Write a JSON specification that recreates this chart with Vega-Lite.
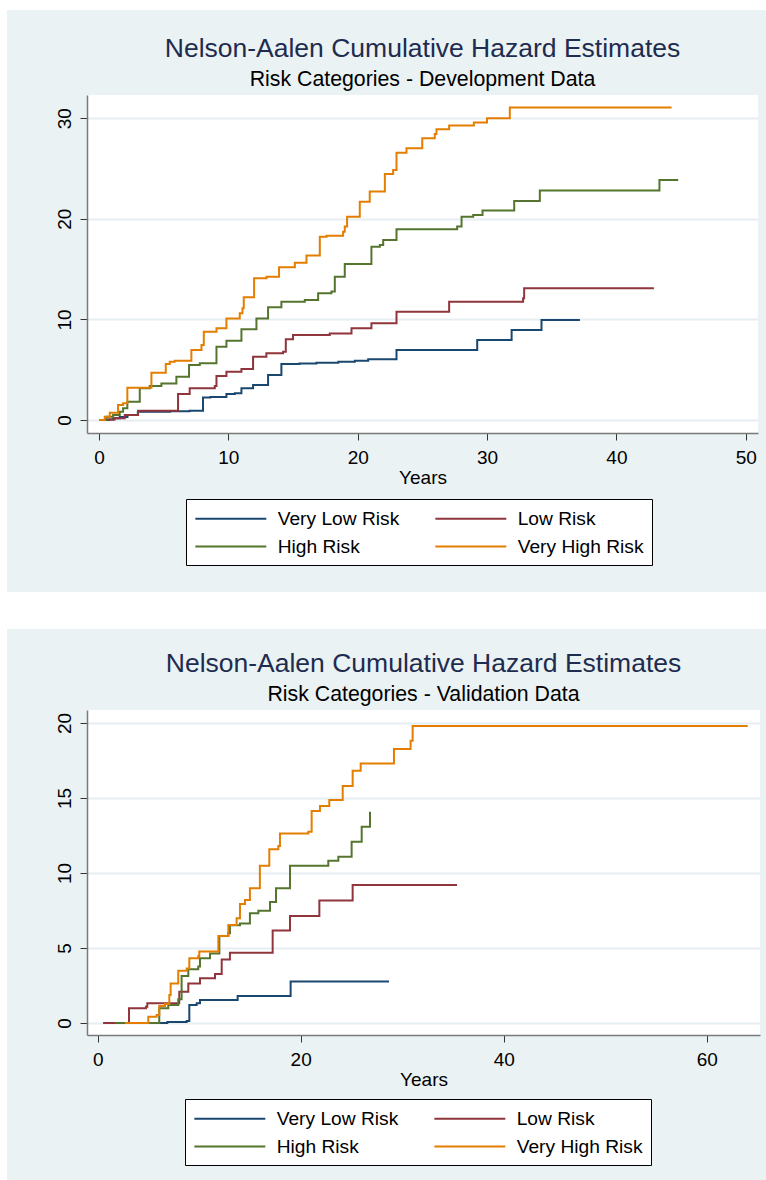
{
  "$schema": "https://vega.github.io/schema/vega-lite/v6.json",
  "background": "#eaf2f3",
  "padding": 0,
  "spacing": 0,
  "config": {
    "font": "Liberation Sans",
    "view": {"stroke": null},
    "title": {"font": "Liberation Sans", "fontSize": 26.5, "fontWeight": "normal", "color": "#1e2c50", "subtitleFont": "Liberation Sans", "subtitleFontSize": 21.3, "subtitleColor": "#000000", "subtitlePadding": 6, "offset": 5, "anchor": "middle", "frame": "group"},
    "axis": {"labelFont": "Liberation Sans", "labelFontSize": 19, "labelColor": "#000000", "titleFont": "Liberation Sans", "titleFontSize": 19, "titleFontWeight": "normal", "titleColor": "#000000", "domainColor": "#7a7a7a", "domainWidth": 1.5, "tickColor": "#333333", "tickWidth": 1, "tickSize": 7, "gridColor": "#e6eef1", "gridWidth": 2, "labelOverlap": false, "labelFlush": false}
  },
  "datasets": {
    "dev": [
      {"g":"Very Low Risk","t":0,"h":0},{"g":"Very Low Risk","t":0.5,"h":0.05},{"g":"Very Low Risk","t":1.1,"h":0.17},{"g":"Very Low Risk","t":1.6,"h":0.3},{"g":"Very Low Risk","t":2.2,"h":0.5},{"g":"Very Low Risk","t":3.0,"h":0.83},{"g":"Very Low Risk","t":5.5,"h":0.87},{"g":"Very Low Risk","t":7.0,"h":0.93},{"g":"Very Low Risk","t":8.04,"h":2.25},{"g":"Very Low Risk","t":8.6,"h":2.3},{"g":"Very Low Risk","t":9.85,"h":2.58},{"g":"Very Low Risk","t":10.5,"h":2.65},{"g":"Very Low Risk","t":11.01,"h":3.15},{"g":"Very Low Risk","t":11.91,"h":3.48},{"g":"Very Low Risk","t":13.07,"h":4.47},{"g":"Very Low Risk","t":14.1,"h":5.57},{"g":"Very Low Risk","t":15.5,"h":5.62},{"g":"Very Low Risk","t":16.81,"h":5.7},{"g":"Very Low Risk","t":18.5,"h":5.78},{"g":"Very Low Risk","t":19.78,"h":5.9},{"g":"Very Low Risk","t":20.81,"h":6.03},{"g":"Very Low Risk","t":23.0,"h":6.96},{"g":"Very Low Risk","t":29.24,"h":7.95},{"g":"Very Low Risk","t":31.9,"h":8.95},{"g":"Very Low Risk","t":34.21,"h":9.94},{"g":"Very Low Risk","t":37.18,"h":9.94},
      {"g":"Low Risk","t":0,"h":0},{"g":"Low Risk","t":0.8,"h":0.05},{"g":"Low Risk","t":1.21,"h":0.17},{"g":"Low Risk","t":1.99,"h":0.5},{"g":"Low Risk","t":3.02,"h":0.93},{"g":"Low Risk","t":6.11,"h":2.58},{"g":"Low Risk","t":7.01,"h":3.15},{"g":"Low Risk","t":8.95,"h":3.38},{"g":"Low Risk","t":9.08,"h":4.37},{"g":"Low Risk","t":9.85,"h":4.8},{"g":"Low Risk","t":11.01,"h":5.07},{"g":"Low Risk","t":11.91,"h":6.3},{"g":"Low Risk","t":12.94,"h":6.63},{"g":"Low Risk","t":14.23,"h":6.79},{"g":"Low Risk","t":14.44,"h":8.02},{"g":"Low Risk","t":15.0,"h":8.45},{"g":"Low Risk","t":17.84,"h":8.61},{"g":"Low Risk","t":19.52,"h":9.11},{"g":"Low Risk","t":21.06,"h":9.61},{"g":"Low Risk","t":23.0,"h":10.77},{"g":"Low Risk","t":27.07,"h":11.76},{"g":"Low Risk","t":32.79,"h":12.09},{"g":"Low Risk","t":32.87,"h":13.09},{"g":"Low Risk","t":42.9,"h":13.09},
      {"g":"High Risk","t":0,"h":0},{"g":"High Risk","t":0.57,"h":0.33},{"g":"High Risk","t":1.09,"h":0.5},{"g":"High Risk","t":1.6,"h":0.83},{"g":"High Risk","t":1.86,"h":1.16},{"g":"High Risk","t":2.19,"h":1.82},{"g":"High Risk","t":3.15,"h":3.15},{"g":"High Risk","t":3.92,"h":3.38},{"g":"High Risk","t":4.82,"h":3.64},{"g":"High Risk","t":5.98,"h":4.31},{"g":"High Risk","t":6.96,"h":5.47},{"g":"High Risk","t":7.79,"h":5.63},{"g":"High Risk","t":9.08,"h":7.29},{"g":"High Risk","t":9.85,"h":7.89},{"g":"High Risk","t":11.01,"h":9.01},{"g":"High Risk","t":12.17,"h":10.1},{"g":"High Risk","t":13.07,"h":11.2},{"g":"High Risk","t":14.1,"h":11.76},{"g":"High Risk","t":15.91,"h":11.93},{"g":"High Risk","t":16.94,"h":12.59},{"g":"High Risk","t":17.97,"h":12.76},{"g":"High Risk","t":18.23,"h":14.25},{"g":"High Risk","t":19.0,"h":15.5},{"g":"High Risk","t":21.06,"h":17.23},{"g":"High Risk","t":21.71,"h":17.4},{"g":"High Risk","t":21.97,"h":17.9},{"g":"High Risk","t":23.0,"h":18.95},{"g":"High Risk","t":27.69,"h":19.22},{"g":"High Risk","t":28.03,"h":20.21},{"g":"High Risk","t":28.93,"h":20.38},{"g":"High Risk","t":29.65,"h":20.81},{"g":"High Risk","t":32.1,"h":21.77},{"g":"High Risk","t":34.08,"h":22.8},{"g":"High Risk","t":43.33,"h":23.86},{"g":"High Risk","t":44.78,"h":23.86},
      {"g":"Very High Risk","t":0,"h":0},{"g":"Very High Risk","t":0.44,"h":0.33},{"g":"Very High Risk","t":0.83,"h":0.73},{"g":"Very High Risk","t":1.47,"h":1.49},{"g":"Very High Risk","t":1.86,"h":1.66},{"g":"Very High Risk","t":2.19,"h":3.21},{"g":"Very High Risk","t":4.05,"h":4.71},{"g":"Very High Risk","t":5.16,"h":5.57},{"g":"Very High Risk","t":5.47,"h":5.8},{"g":"Very High Risk","t":5.85,"h":5.9},{"g":"Very High Risk","t":7.14,"h":6.96},{"g":"Very High Risk","t":7.92,"h":7.46},{"g":"Very High Risk","t":8.1,"h":8.78},{"g":"Very High Risk","t":9.08,"h":9.11},{"g":"Very High Risk","t":9.85,"h":10.1},{"g":"Very High Risk","t":10.88,"h":10.6},{"g":"Very High Risk","t":11.09,"h":11.1},{"g":"Very High Risk","t":11.19,"h":12.19},{"g":"Very High Risk","t":11.99,"h":14.08},{"g":"Very High Risk","t":12.95,"h":14.25},{"g":"Very High Risk","t":13.92,"h":15.18},{"g":"Very High Risk","t":15.14,"h":15.64},{"g":"Very High Risk","t":16.04,"h":16.34},{"g":"Very High Risk","t":17.07,"h":18.22},{"g":"Very High Risk","t":17.59,"h":18.32},{"g":"Very High Risk","t":18.87,"h":18.72},{"g":"Very High Risk","t":19.0,"h":19.22},{"g":"Very High Risk","t":19.18,"h":20.21},{"g":"Very High Risk","t":20.16,"h":21.7},{"g":"Very High Risk","t":20.93,"h":22.7},{"g":"Very High Risk","t":22.1,"h":24.45},{"g":"Very High Risk","t":22.74,"h":24.85},{"g":"Very High Risk","t":23.0,"h":26.57},{"g":"Very High Risk","t":23.77,"h":27.0},{"g":"Very High Risk","t":24.99,"h":28.0},{"g":"Very High Risk","t":25.96,"h":28.43},{"g":"Very High Risk","t":26.09,"h":28.9},{"g":"Very High Risk","t":27.07,"h":29.26},{"g":"Very High Risk","t":28.98,"h":29.56},{"g":"Very High Risk","t":30.0,"h":29.99},{"g":"Very High Risk","t":31.76,"h":31.05},{"g":"Very High Risk","t":44.27,"h":31.05}
    ],
    "val": [
      {"g":"Very Low Risk","t":0.56,"h":0},{"g":"Very Low Risk","t":6.86,"h":0.07},{"g":"Very Low Risk","t":8.77,"h":0.13},{"g":"Very Low Risk","t":9.03,"h":1.2},{"g":"Very Low Risk","t":9.75,"h":1.31},{"g":"Very Low Risk","t":10.08,"h":1.53},{"g":"Very Low Risk","t":13.79,"h":1.8},{"g":"Very Low Risk","t":19.01,"h":2.76},{"g":"Very Low Risk","t":28.7,"h":2.76},
      {"g":"Low Risk","t":0.56,"h":0},{"g":"Low Risk","t":3.09,"h":0.98},{"g":"Low Risk","t":4.76,"h":1.09},{"g":"Low Risk","t":4.89,"h":1.31},{"g":"Low Risk","t":8.04,"h":2.09},{"g":"Low Risk","t":8.93,"h":2.64},{"g":"Low Risk","t":10.08,"h":2.98},{"g":"Low Risk","t":11.56,"h":3.27},{"g":"Low Risk","t":12.22,"h":4.24},{"g":"Low Risk","t":13.03,"h":4.69},{"g":"Low Risk","t":17.24,"h":6.16},{"g":"Low Risk","t":18.95,"h":7.13},{"g":"Low Risk","t":21.84,"h":8.16},{"g":"Low Risk","t":25.12,"h":9.2},{"g":"Low Risk","t":35.4,"h":9.2},
      {"g":"High Risk","t":1.71,"h":0},{"g":"High Risk","t":6.07,"h":0.98},{"g":"High Risk","t":6.96,"h":1.2},{"g":"High Risk","t":7.94,"h":1.58},{"g":"High Risk","t":8.27,"h":3.13},{"g":"High Risk","t":8.93,"h":3.58},{"g":"High Risk","t":9.91,"h":3.76},{"g":"High Risk","t":10.08,"h":4.31},{"g":"High Risk","t":11.07,"h":4.64},{"g":"High Risk","t":11.99,"h":5.8},{"g":"High Risk","t":12.87,"h":5.98},{"g":"High Risk","t":13.03,"h":6.51},{"g":"High Risk","t":14.02,"h":6.64},{"g":"High Risk","t":15.0,"h":7.31},{"g":"High Risk","t":15.83,"h":7.49},{"g":"High Risk","t":16.98,"h":8.07},{"g":"High Risk","t":17.57,"h":8.98},{"g":"High Risk","t":18.95,"h":10.49},{"g":"High Risk","t":22.72,"h":10.82},{"g":"High Risk","t":23.71,"h":11.09},{"g":"High Risk","t":25.02,"h":12.09},{"g":"High Risk","t":26.01,"h":13.09},{"g":"High Risk","t":26.83,"h":14.09},
      {"g":"Very High Risk","t":2.69,"h":0},{"g":"Very High Risk","t":4.99,"h":0.42},{"g":"Very High Risk","t":5.81,"h":0.53},{"g":"Very High Risk","t":6.07,"h":1.13},{"g":"Very High Risk","t":6.63,"h":1.27},{"g":"Very High Risk","t":7.06,"h":1.87},{"g":"Very High Risk","t":7.19,"h":2.64},{"g":"Very High Risk","t":7.94,"h":3.49},{"g":"Very High Risk","t":8.77,"h":3.64},{"g":"Very High Risk","t":9.03,"h":4.31},{"g":"Very High Risk","t":9.91,"h":4.47},{"g":"Very High Risk","t":10.01,"h":4.76},{"g":"Very High Risk","t":11.89,"h":5.8},{"g":"Very High Risk","t":12.87,"h":6.53},{"g":"Very High Risk","t":13.69,"h":6.98},{"g":"Very High Risk","t":14.02,"h":7.93},{"g":"Very High Risk","t":14.51,"h":8.2},{"g":"Very High Risk","t":15.0,"h":8.98},{"g":"Very High Risk","t":15.98,"h":10.49},{"g":"Very High Risk","t":16.91,"h":11.58},{"g":"Very High Risk","t":17.8,"h":11.8},{"g":"Very High Risk","t":17.96,"h":12.64},{"g":"Very High Risk","t":20.75,"h":12.76},{"g":"Very High Risk","t":21.08,"h":14.13},{"g":"Very High Risk","t":21.9,"h":14.47},{"g":"Very High Risk","t":22.82,"h":14.87},{"g":"Very High Risk","t":24.14,"h":15.8},{"g":"Very High Risk","t":25.12,"h":16.82},{"g":"Very High Risk","t":25.91,"h":17.31},{"g":"Very High Risk","t":29.19,"h":18.27},{"g":"Very High Risk","t":30.83,"h":18.82},{"g":"Very High Risk","t":31.03,"h":19.8},{"g":"Very High Risk","t":64.04,"h":19.8}
    ]
  },
  "hconcat": [
    {"width": 7, "height": 1180, "view": {"fill": "#ffffff", "stroke": null}, "data": {"values": []}, "mark": {"type": "point", "opacity": 0}},
    {
      "spacing": 22,
      "vconcat": [
        {
          "spacing": 26,
          "vconcat": [
            {"width": 759, "height": 10, "view": {"fill": "#ffffff", "stroke": null}, "data": {"values": []}, "mark": {"type": "point", "opacity": 0}},
            {
              "spacing": 47,
              "hconcat": [
                {"width": 1, "height": 1, "view": {"stroke": null}, "data": {"values": []}, "mark": {"type": "point", "opacity": 0}},
                {
                  "width": 671, "height": 338,
                  "view": {"fill": "#ffffff", "stroke": null},
                  "title": {"text": "Nelson-Aalen Cumulative Hazard Estimates", "subtitle": "Risk Categories - Development Data"},
                  "data": {"name": "dev"},
                  "mark": {"type": "line", "interpolate": "step-after", "strokeWidth": 2},
                  "encoding": {
                    "x": {"field": "t", "type": "quantitative", "scale": {"domain": [-0.93, 50.95], "nice": false, "zero": false},
                          "axis": {"values": [0, 10, 20, 30, 40, 50], "title": "Years", "grid": false, "labelPadding": 8, "titlePadding": 1}},
                    "y": {"field": "h", "type": "quantitative", "scale": {"domain": [-1.29, 32.3], "nice": false, "zero": false},
                          "axis": {"values": [0, 10, 20, 30], "title": null, "grid": true, "labelAngle": 270, "labelAlign": "center", "labelBaseline": "bottom", "labelPadding": 5.5}},
                    "color": {"field": "g", "type": "nominal",
                              "scale": {"domain": ["Very Low Risk", "Low Risk", "High Risk", "Very High Risk"], "range": ["#1a476f", "#90353b", "#55752f", "#e37e00"]},
                              "legend": {"orient": "none", "legendX": 99, "legendY": 404, "direction": "horizontal", "columns": 2, "title": null, "symbolType": "M-1,0H6", "symbolSize": 411, "symbolStrokeWidth": 2, "labelFontSize": 19.2, "labelColor": "#000000", "labelOffset": 60.7, "columnPadding": 31, "rowPadding": 6, "padding": 8, "fillColor": "#ffffff", "strokeColor": "#000000", "labelLimit": 0}}
                  }
                }
              ],
              "resolve": {"scale": {"color": "independent"}, "legend": {"color": "independent"}}
            },
            {"width": 759, "height": 37, "view": {"fill": "#ffffff", "stroke": null}, "data": {"values": []}, "mark": {"type": "point", "opacity": 0}}
          ],
          "resolve": {"scale": {"color": "independent"}, "legend": {"color": "independent"}}
        },
        {
          "spacing": 47,
          "hconcat": [
            {"width": 1, "height": 1, "view": {"stroke": null}, "data": {"values": []}, "mark": {"type": "point", "opacity": 0}},
            {
              "width": 673, "height": 325,
              "view": {"fill": "#ffffff", "stroke": null},
              "title": {"text": "Nelson-Aalen Cumulative Hazard Estimates", "subtitle": "Risk Categories - Validation Data"},
              "data": {"name": "val"},
              "mark": {"type": "line", "interpolate": "step-after", "strokeWidth": 2},
              "encoding": {
                "x": {"field": "t", "type": "quantitative", "scale": {"domain": [-1.05, 65.25], "nice": false, "zero": false},
                      "axis": {"values": [0, 20, 40, 60], "title": "Years", "grid": false, "labelPadding": 8, "titlePadding": 1}},
                "y": {"field": "h", "type": "quantitative", "scale": {"domain": [-0.8, 20.87], "nice": false, "zero": false},
                      "axis": {"values": [0, 5, 10, 15, 20], "title": null, "grid": true, "labelAngle": 270, "labelAlign": "center", "labelBaseline": "bottom", "labelPadding": 5.5}},
                "color": {"field": "g", "type": "nominal",
                          "scale": {"domain": ["Very Low Risk", "Low Risk", "High Risk", "Very High Risk"], "range": ["#1a476f", "#90353b", "#55752f", "#e37e00"]},
                          "legend": {"orient": "none", "legendX": 98, "legendY": 389, "direction": "horizontal", "columns": 2, "title": null, "symbolType": "M-1,0H6", "symbolSize": 411, "symbolStrokeWidth": 2, "labelFontSize": 19.2, "labelColor": "#000000", "labelOffset": 60.7, "columnPadding": 31, "rowPadding": 6, "padding": 8, "fillColor": "#ffffff", "strokeColor": "#000000", "labelLimit": 0}}
              }
            }
          ],
          "resolve": {"scale": {"color": "independent"}, "legend": {"color": "independent"}}
        }
      ],
      "resolve": {"scale": {"color": "independent"}, "legend": {"color": "independent"}}
    }
  ],
  "resolve": {"scale": {"color": "independent"}, "legend": {"color": "independent"}}
}
